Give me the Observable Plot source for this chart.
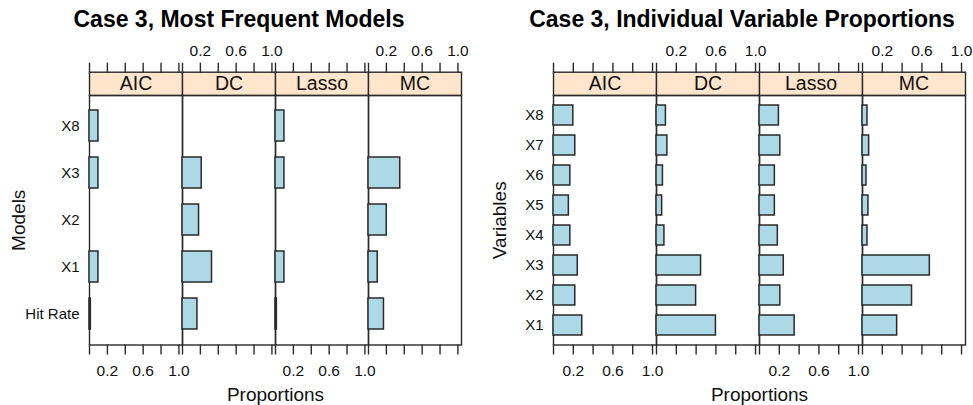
<!DOCTYPE html>
<html>
<head>
<meta charset="utf-8">
<script src="https://cdn.jsdelivr.net/npm/d3@7"></script>
<script src="https://cdn.jsdelivr.net/npm/@observablehq/plot@0.6"></script>
<style>
  html, body { margin: 0; padding: 0; background: #fff; }
  #root { position: relative; width: 973px; height: 405px; font-family: "Liberation Sans", Arial, Helvetica, sans-serif; color: #000; }
  .title { position: absolute; top: 8px; font-size: 23px; line-height: 23px; font-weight: bold; white-space: nowrap; transform: translateX(-50%); }
  .chart { position: absolute; top: 30px; }
</style>
</head>
<body>
<div id="root">
  <div class="title" id="t1" style="left:239px"></div>
  <div class="title" id="t2" style="left:742px"></div>
  <div class="chart" id="c1" style="left:0px"></div>
  <div class="chart" id="c2" style="left:487px"></div>
</div>
<script>
// ---- data ----
const methods = ["AIC", "DC", "Lasso", "MC"];

const title1 = "Case 3, Most Frequent Models";
const modelCats = ["X8", "X3", "X2", "X1", "Hit Rate"];
const modelAIC   = [0.10, 0.10, 0,     0.10, 0.015];
const modelDC    = [0,    0.215, 0.185, 0.33, 0.167];
const modelLasso = [0.10, 0.10, 0,     0.10, 0.015];
const modelMC    = [0,    0.355, 0.204, 0.103, 0.173];

const title2 = "Case 3, Individual Variable Proportions";
const varCats = ["X8", "X7", "X6", "X5", "X4", "X3", "X2", "X1"];
const varAIC   = [0.20, 0.22, 0.17, 0.155, 0.17, 0.245, 0.22, 0.29];
const varDC    = [0.095, 0.11, 0.065, 0.057, 0.08, 0.45, 0.40, 0.60];
const varLasso = [0.196, 0.21, 0.155, 0.155, 0.185, 0.245, 0.21, 0.355];
const varMC    = [0.05, 0.067, 0.04, 0.06, 0.05, 0.68, 0.50, 0.35];

const tickValues = [0, 0.2, 0.4, 0.6, 0.8, 1.0];
const labelValues = [0.2, 0.6, 1.0];
const topLabelFacets = ["DC", "MC"];
const bottomLabelFacets = ["AIC", "Lasso"];
const xLabel = "Proportions";

// ---- drawing ----
const H = 375, MT = 65, MB = 60.5;
const PANEL_H = H - MT - MB;
const STRIP_H = 23.3;
const INK = "#2a2a2a";

function chart({cats, series, yLabel, width, marginLeft, marginRight, yLabelDx}) {
  const rows = [];
  methods.forEach((m, i) => series[i].forEach((v, j) => rows.push({method: m, cat: cats[j], value: v})));
  const topLabels = topLabelFacets.flatMap(m => labelValues.map(v => ({method: m, v})));
  const bottomLabels = bottomLabelFacets.flatMap(m => labelValues.map(v => ({method: m, v})));
  return Plot.plot({
    width, height: H, marginTop: MT, marginBottom: MB, marginLeft, marginRight,
    style: {fontFamily: '"Liberation Sans", Arial, Helvetica, sans-serif', fontSize: "15px", color: "#111", background: "transparent", overflow: "visible"},
    fx: {domain: methods, padding: 0, axis: null, label: null},
    x: {domain: [0, 1.04], axis: null},
    y: {domain: cats, paddingInner: 1/3, paddingOuter: 0.267, axis: null},
    marks: [
      // strip
      Plot.frame({fill: "#ffe5cc", stroke: INK, strokeWidth: 1.4, insetTop: -STRIP_H, insetBottom: PANEL_H}),
      Plot.text(methods, {fx: d => d, text: d => d, frameAnchor: "top", dy: -STRIP_H / 2, lineAnchor: "middle", fontSize: 19.5}),
      // panel
      Plot.frame({stroke: INK, strokeWidth: 1.4}),
      Plot.barX(rows.filter(d => d.value > 0), {x: "value", y: "cat", fx: "method", fill: "#add8e6", stroke: INK, strokeWidth: 1.5}),
      // x ticks top & bottom
      Plot.axisX({anchor: "top", ticks: tickValues, tickSize: 10, dy: -STRIP_H, fill: "none", label: null, stroke: INK, strokeWidth: 1.4}),
      Plot.axisX({anchor: "bottom", ticks: tickValues, tickSize: 10, fill: "none", label: null, stroke: INK, strokeWidth: 1.4}),
      Plot.text(topLabels, {x: "v", fx: "method", text: d => d.v.toFixed(1), frameAnchor: "top", dy: -44.5, lineAnchor: "middle", fontSize: 15.5}),
      Plot.text(bottomLabels, {x: "v", fx: "method", text: d => d.v.toFixed(1), frameAnchor: "bottom", dy: 26.5, lineAnchor: "middle", fontSize: 15.5}),
      // y axis
      Plot.axisY({anchor: "left", tickSize: 0, tickPadding: 10, label: null, fontSize: 15}),
      Plot.text([yLabel], {fx: () => methods[0], text: d => d, frameAnchor: "left", rotate: -90, dx: yLabelDx, lineAnchor: "middle", textAnchor: "middle", fontSize: 19}),
      Plot.text([xLabel], {fx: () => methods[1], text: d => d, frameAnchor: "bottom-right", textAnchor: "middle", dy: 49.5, lineAnchor: "middle", fontSize: 19})
    ]
  });
}

document.getElementById("t1").textContent = title1;
document.getElementById("t2").textContent = title2;

document.getElementById("c1").append(chart({
  cats: modelCats, series: [modelAIC, modelDC, modelLasso, modelMC], yLabel: "Models",
  width: 480, marginLeft: 87.3, marginRight: 17.3, yLabelDx: -70.8
}));
document.getElementById("c2").append(chart({
  cats: varCats, series: [varAIC, varDC, varLasso, varMC], yLabel: "Variables",
  width: 486, marginLeft: 65.3, marginRight: 7.7, yLabelDx: -53.3
}));
</script>
</body>
</html>
